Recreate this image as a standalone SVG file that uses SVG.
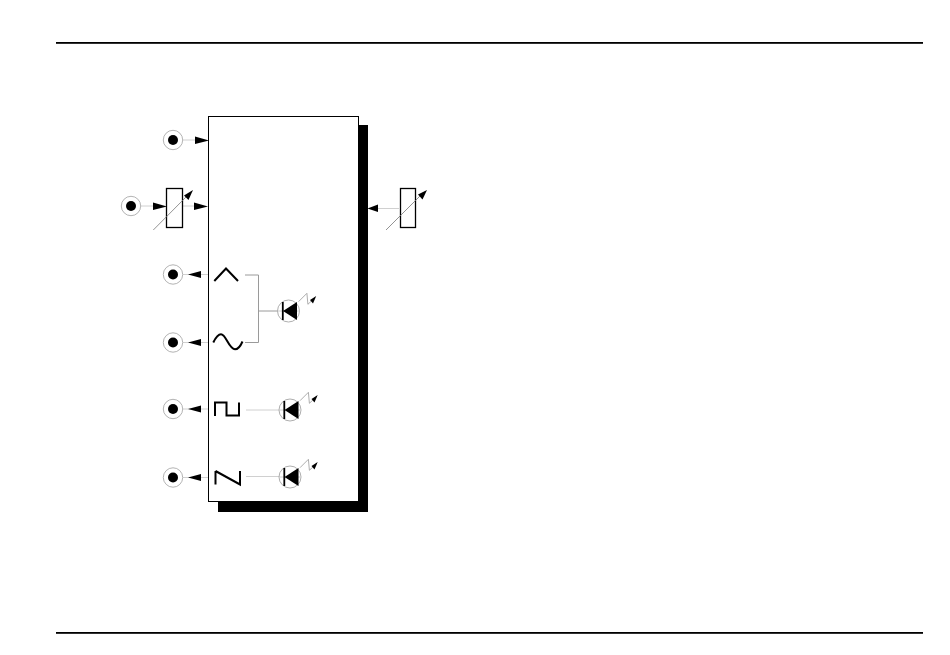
<svg xmlns="http://www.w3.org/2000/svg" width="950" height="655" viewBox="0 0 950 655">
<style>
.thin{stroke:#d0d0d0;stroke-width:1;fill:none}
.mid{stroke:#9a9a9a;stroke-width:1;fill:none}
.blk{stroke:#000;stroke-width:1.3;fill:none}
.wave{stroke:#000;stroke-width:2;fill:none}
.ring{stroke:#aaa;stroke-width:.9;fill:#fff}
.ar{fill:#000;stroke:none}
.dia{stroke:#999;stroke-width:.8;fill:none}
.diab{stroke:#000;stroke-width:1.8;fill:none}
.dg{stroke:#777;stroke-width:.8;fill:none}
</style>
<defs>
<g id="jack"><circle class="ring" r="9.700"/><circle r="5" fill="#000"/></g>
<g id="led">
<circle class="dia" r="11"/>
<path class="thin" d="M-11 0H11"/>
<path class="ar" d="M8.500 -9V9L-5.500 0Z"/>
<path class="diab" d="M-5.700 -9V9"/>
<path class="dia" d="M10 -9.300L18.400 -17.700L19.400 -6.700L24 -11"/>
<path class="ar" d="M27.700 -15L21.500 -11L24.500 -7.500Z"/>
</g>
</defs>
<g id="rules">
<rect x="56" y="42" width="867" height="1.800" fill="#000"/>
<rect x="56" y="632" width="867" height="1.800" fill="#000"/>
</g>
<g id="block">
<rect x="218" y="125" width="150" height="387" fill="#000"/>
<rect x="208.500" y="116.500" width="150" height="385" fill="#fff" stroke="#000" stroke-width="1"/>
</g>
<g id="connectors">
<path class="thin" d="M183 140H196M141 206H154M183 206H196M377 208.500H399M183 274.500H208M183 342.500H208M183 409H208M183 477.500H208"/>
<path class="mid" d="M245 275H258.500V342.500H245M258.500 311H278"/>
<path class="thin" d="M246 410H280M246 476.500H280"/>
<path class="ar" d="M195 136.500L209 140.500L195 144ZM153 202.500L167 206.500L153 210ZM194 202.500L208 206.500L194 210ZM378 204.500V212L367.500 208.500ZM201 271V278L188 274.500ZM201 339V346L188 342.500ZM201 405.500V412.500L188 409ZM201 474V481L188 477.500Z"/>
</g>
<g id="jack1"><use href="#jack" x="173" y="140"/></g>
<g id="jack2"><use href="#jack" x="131" y="206"/></g>
<g id="jack3"><use href="#jack" x="173" y="274.500"/></g>
<g id="jack4"><use href="#jack" x="173" y="342.500"/></g>
<g id="jack5"><use href="#jack" x="173" y="409"/></g>
<g id="jack6"><use href="#jack" x="173" y="477.500"/></g>
<g id="pot-left">
<rect class="blk" x="166.500" y="188.500" width="16" height="39"/>
<path class="dg" d="M153.300 230L187 196"/>
<path class="ar" d="M193 190L184 195.500L188.500 200Z"/>
</g>
<g id="pot-right">
<rect class="blk" x="400.500" y="188.500" width="15" height="39"/>
<path class="dg" d="M386 230L421 195"/>
<path class="ar" d="M427 190L418 194.500L422.500 199.500Z"/>
</g>
<g id="wave-triangle"><path class="wave" d="M214.300 281L226 268.500L238 281"/></g>
<g id="wave-sine"><path class="wave" d="M213.300 342.500C216 337 218 334.300 221 334.300C226 334.300 229 349.300 235 349.300C238.500 349.300 241 345 242.500 341.500"/></g>
<g id="wave-square"><path class="wave" d="M215 416V402.500H226.500V415.500H239V402.500"/></g>
<g id="wave-saw"><path class="wave" d="M215.500 471V484.500M215.500 471L240 484.500V471"/></g>
<g id="led1"><use href="#led" x="288.500" y="311"/></g>
<g id="led2"><use href="#led" x="290" y="410"/></g>
<g id="led3"><use href="#led" x="290" y="477"/></g>
</svg>
